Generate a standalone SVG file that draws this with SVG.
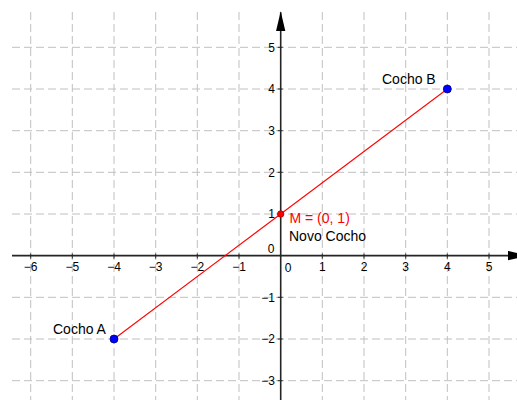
<svg xmlns="http://www.w3.org/2000/svg" width="517" height="400" viewBox="0 0 517 400">
<style>
.grid line{stroke:#c0c0c0;stroke-width:1;stroke-dasharray:8,4}
.axis{stroke:#252525;stroke-width:1.6}
.tick{stroke:#252525;stroke-width:1}
.tl{font-family:"Liberation Sans",Arial,sans-serif;font-size:12px;fill:#000}
.lbl{font-family:"Liberation Sans",Arial,sans-serif;font-size:14px;fill:#000}
</style>
<defs>
<marker id="arr" markerWidth="20" markerHeight="10" refX="19" refY="5" orient="auto" markerUnits="userSpaceOnUse"><path d="M0,0.3 L20,5 L0,9.7 Z" fill="#000"/></marker>
</defs>
<rect width="517" height="400" fill="#fff"/>
<g class="grid">
<line x1="30.7" y1="12" x2="30.7" y2="400"/>
<line x1="72.3" y1="12" x2="72.3" y2="400"/>
<line x1="114" y1="12" x2="114" y2="400"/>
<line x1="155.7" y1="12" x2="155.7" y2="400"/>
<line x1="197.3" y1="12" x2="197.3" y2="400"/>
<line x1="239" y1="12" x2="239" y2="400"/>
<line x1="322.3" y1="12" x2="322.3" y2="400"/>
<line x1="364" y1="12" x2="364" y2="400"/>
<line x1="405.7" y1="12" x2="405.7" y2="400"/>
<line x1="447.3" y1="12" x2="447.3" y2="400"/>
<line x1="489" y1="12" x2="489" y2="400"/>
<line x1="12" y1="47.3" x2="517" y2="47.3"/>
<line x1="12" y1="89" x2="517" y2="89"/>
<line x1="12" y1="130.7" x2="517" y2="130.7"/>
<line x1="12" y1="172.3" x2="517" y2="172.3"/>
<line x1="12" y1="214" x2="517" y2="214"/>
<line x1="12" y1="297.3" x2="517" y2="297.3"/>
<line x1="12" y1="339" x2="517" y2="339"/>
<line x1="12" y1="380.7" x2="517" y2="380.7"/>
</g>
<g id="axes">
<line class="axis" x1="12" y1="255.6" x2="527" y2="255.6" marker-end="url(#arr)"/>
<line class="axis" x1="280.7" y1="400" x2="280.7" y2="12.3" marker-end="url(#arr)"/>
<g class="tick">
<line x1="30.7" y1="253.6" x2="30.7" y2="258.6"/>
<line x1="72.3" y1="253.6" x2="72.3" y2="258.6"/>
<line x1="114" y1="253.6" x2="114" y2="258.6"/>
<line x1="155.7" y1="253.6" x2="155.7" y2="258.6"/>
<line x1="197.3" y1="253.6" x2="197.3" y2="258.6"/>
<line x1="239" y1="253.6" x2="239" y2="258.6"/>
<line x1="322.3" y1="253.6" x2="322.3" y2="258.6"/>
<line x1="364" y1="253.6" x2="364" y2="258.6"/>
<line x1="405.7" y1="253.6" x2="405.7" y2="258.6"/>
<line x1="447.3" y1="253.6" x2="447.3" y2="258.6"/>
<line x1="489" y1="253.6" x2="489" y2="258.6"/>
<line x1="277.7" y1="47.3" x2="282.7" y2="47.3"/>
<line x1="277.7" y1="89" x2="282.7" y2="89"/>
<line x1="277.7" y1="130.7" x2="282.7" y2="130.7"/>
<line x1="277.7" y1="172.3" x2="282.7" y2="172.3"/>
<line x1="277.7" y1="214" x2="282.7" y2="214"/>
<line x1="277.7" y1="297.3" x2="282.7" y2="297.3"/>
<line x1="277.7" y1="339" x2="282.7" y2="339"/>
<line x1="277.7" y1="380.7" x2="282.7" y2="380.7"/>
</g>
<g class="tl" text-anchor="middle">
<text x="30.7" y="271">−6</text>
<text x="72.3" y="271">−5</text>
<text x="114" y="271">−4</text>
<text x="155.7" y="271">−3</text>
<text x="197.3" y="271">−2</text>
<text x="239" y="271">−1</text>
<text x="288" y="271.5">0</text>
<text x="322.3" y="271">1</text>
<text x="364" y="271">2</text>
<text x="405.7" y="271">3</text>
<text x="447.3" y="271">4</text>
<text x="489" y="271">5</text>
</g>
<g class="tl" text-anchor="end">
<text x="275" y="51.7">5</text>
<text x="275" y="93.4">4</text>
<text x="275" y="135.1">3</text>
<text x="275" y="176.7">2</text>
<text x="275" y="218.4">1</text>
<text x="274.5" y="253.3">0</text>
<text x="275" y="301.7">−1</text>
<text x="275" y="343.4">−2</text>
<text x="275" y="385.1">−3</text>
</g>
</g>
<g id="connectors">
<line x1="114" y1="339" x2="447.3" y2="89" stroke="#ff0000" stroke-width="1.1"/>
</g>
<g id="cocho-a">
<circle cx="114" cy="339" r="4" fill="#0000ff" stroke="#00007f" stroke-width="0.8"/>
<text class="lbl" x="53" y="334">Cocho A</text>
</g>
<g id="cocho-b">
<circle cx="447.3" cy="89" r="4" fill="#0000ff" stroke="#00007f" stroke-width="0.8"/>
<text class="lbl" x="382" y="84">Cocho B</text>
</g>
<g id="m">
<circle cx="280.7" cy="214" r="3.2" fill="#ff0000" stroke="#aa0000" stroke-width="0.8"/>
<text class="lbl" x="289.5" y="222.5" style="fill:#ff0000">M = (0, 1)</text>
<text class="lbl" x="289" y="240.5">Novo Cocho</text>
</g>
</svg>
